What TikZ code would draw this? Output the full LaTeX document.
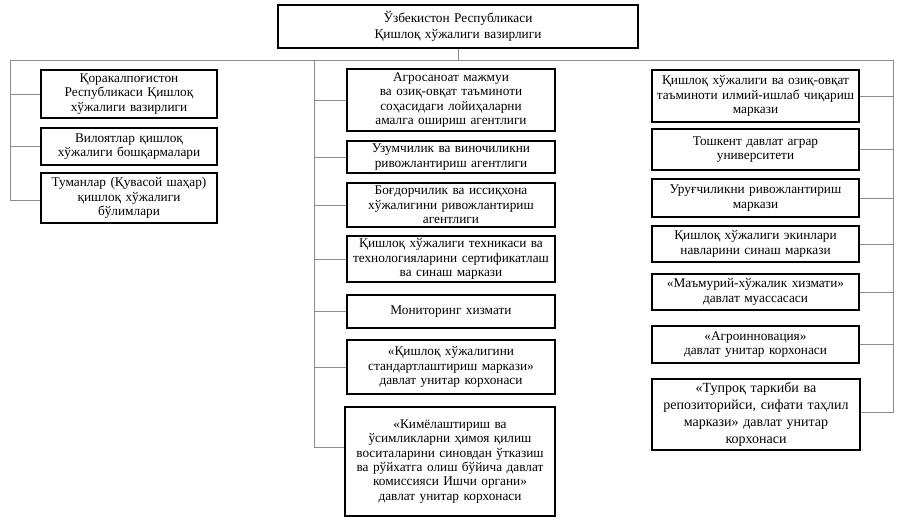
\documentclass[tikz,border=0pt]{standalone}
\usepackage{fontspec}
\setmainfont{Liberation Serif}
\begin{document}
\begin{tikzpicture}[x=1pt,y=-1pt,
  box/.style={draw=black, line width=1.1pt, fill=white, inner sep=0pt, align=center,
    font=\fontsize{13.3}{14.3}\selectfont},
  conn/.style={draw=black!45, line width=1pt}]
\useasboundingbox (0,0) rectangle (898,520);
% top
\node[box, minimum width=360, minimum height=43, text width=350,
  font=\fontsize{13.3}{16}\selectfont] (top) at (458,26.5)
  {Ўзбекистон Республикаси\\Қишлоқ хўжалиги вазирлиги};
% left column
\node[box, minimum width=176, minimum height=48, text width=172] (L1) at (129,94)
  {Қоракалпоғистон\\Республикаси Қишлоқ\\хўжалиги вазирлиги};
\node[box, minimum width=176, minimum height=37, text width=172] (L2) at (129,146.5)
  {Вилоятлар қишлоқ\\хўжалиги бошқармалари};
\node[box, minimum width=176, minimum height=50, text width=172] (L3) at (129,198)
  {Туманлар (Қувасой шаҳар)\\қишлоқ хўжалиги\\бўлимлари};
% middle column
\node[box, minimum width=208, minimum height=62, text width=204] (M1) at (451,100)
  {Агросаноат мажмуи\\ва озиқ-овқат таъминоти\\соҳасидаги лойиҳаларни\\амалга ошириш агентлиги};
\node[box, minimum width=208, minimum height=32, text width=204] (M2) at (451,157)
  {Узумчилик ва виночиликни\\ривожлантириш агентлиги};
\node[box, minimum width=208, minimum height=44, text width=204] (M3) at (451,205)
  {Боғдорчилик ва иссиқхона\\хўжалигини ривожлантириш\\агентлиги};
\node[box, minimum width=208, minimum height=46, text width=206] (M4) at (451,259)
  {Қишлоқ хўжалиги техникаси ва\\технологияларини сертификатлаш\\ва синаш маркази};
\node[box, minimum width=208, minimum height=33, text width=204] (M5) at (451,311.5)
  {Мониторинг хизмати};
\node[box, minimum width=208, minimum height=54, text width=204] (M6) at (451,367)
  {«Қишлоқ хўжалигини\\стандартлаштириш маркази»\\давлат унитар корхонаси};
\node[box, minimum width=210, minimum height=109, text width=206] (M7) at (450,461.5)
  {«Кимёлаштириш ва\\ўсимликларни ҳимоя қилиш\\воситаларини синовдан ўтказиш\\ва рўйхатга олиш бўйича давлат\\комиссияси Ишчи органи»\\давлат унитар корхонаси};
% right column
\node[box, minimum width=207, minimum height=52, text width=205] (R1) at (755.5,96)
  {Қишлоқ хўжалиги ва озиқ-овқат\\таъминоти илмий-ишлаб чиқариш\\маркази};
\node[box, minimum width=207, minimum height=41, text width=203] (R2) at (755.5,149.5)
  {Тошкент давлат аграр\\университети};
\node[box, minimum width=207, minimum height=38, text width=203] (R3) at (755.5,198)
  {Уруғчиликни ривожлантириш\\маркази};
\node[box, minimum width=207, minimum height=36, text width=203] (R4) at (755.5,244)
  {Қишлоқ хўжалиги экинлари\\навларини синаш маркази};
\node[box, minimum width=207, minimum height=36, text width=203] (R5) at (755.5,292)
  {«Маъмурий-хўжалик хизмати»\\давлат муассасаси};
\node[box, minimum width=207, minimum height=37, text width=203] (R6) at (755.5,344.5)
  {«Агроинновация»\\давлат унитар корхонаси};
\node[box, minimum width=208, minimum height=71, text width=204,
  font=\fontsize{14}{16.8}\selectfont] (R7) at (756,414.5)
  {«Тупроқ таркиби ва\\репозиторийси, сифати таҳлил\\маркази» давлат унитар\\корхонаси};
% connectors
\coordinate (hl) at (10,60);
\coordinate (hr) at (893,60);
\coordinate (vm) at (314,60);
\draw[conn] (top.south) -- (top.south |- hl);
\draw[conn] (hl) -- (hr);
\draw[conn] (hl) |- ([yshift=-2pt]L3.west);
\draw[conn] (hl |- L1.west) -- (L1.west);
\draw[conn] (hl |- L2.west) -- (L2.west);
\draw[conn] (vm) |- ([yshift=14.5pt]M7.west);
\foreach \n in {M1,M2,M3,M4,M5,M6}
  \draw[conn] (vm |- \n.west) -- (\n.west);
\draw[conn] (hr) |- ([yshift=2.5pt]R7.east);
\foreach \n in {R1,R2,R3,R4,R5,R6}
  \draw[conn] (hr |- \n.east) -- (\n.east);
\end{tikzpicture}
\end{document}
